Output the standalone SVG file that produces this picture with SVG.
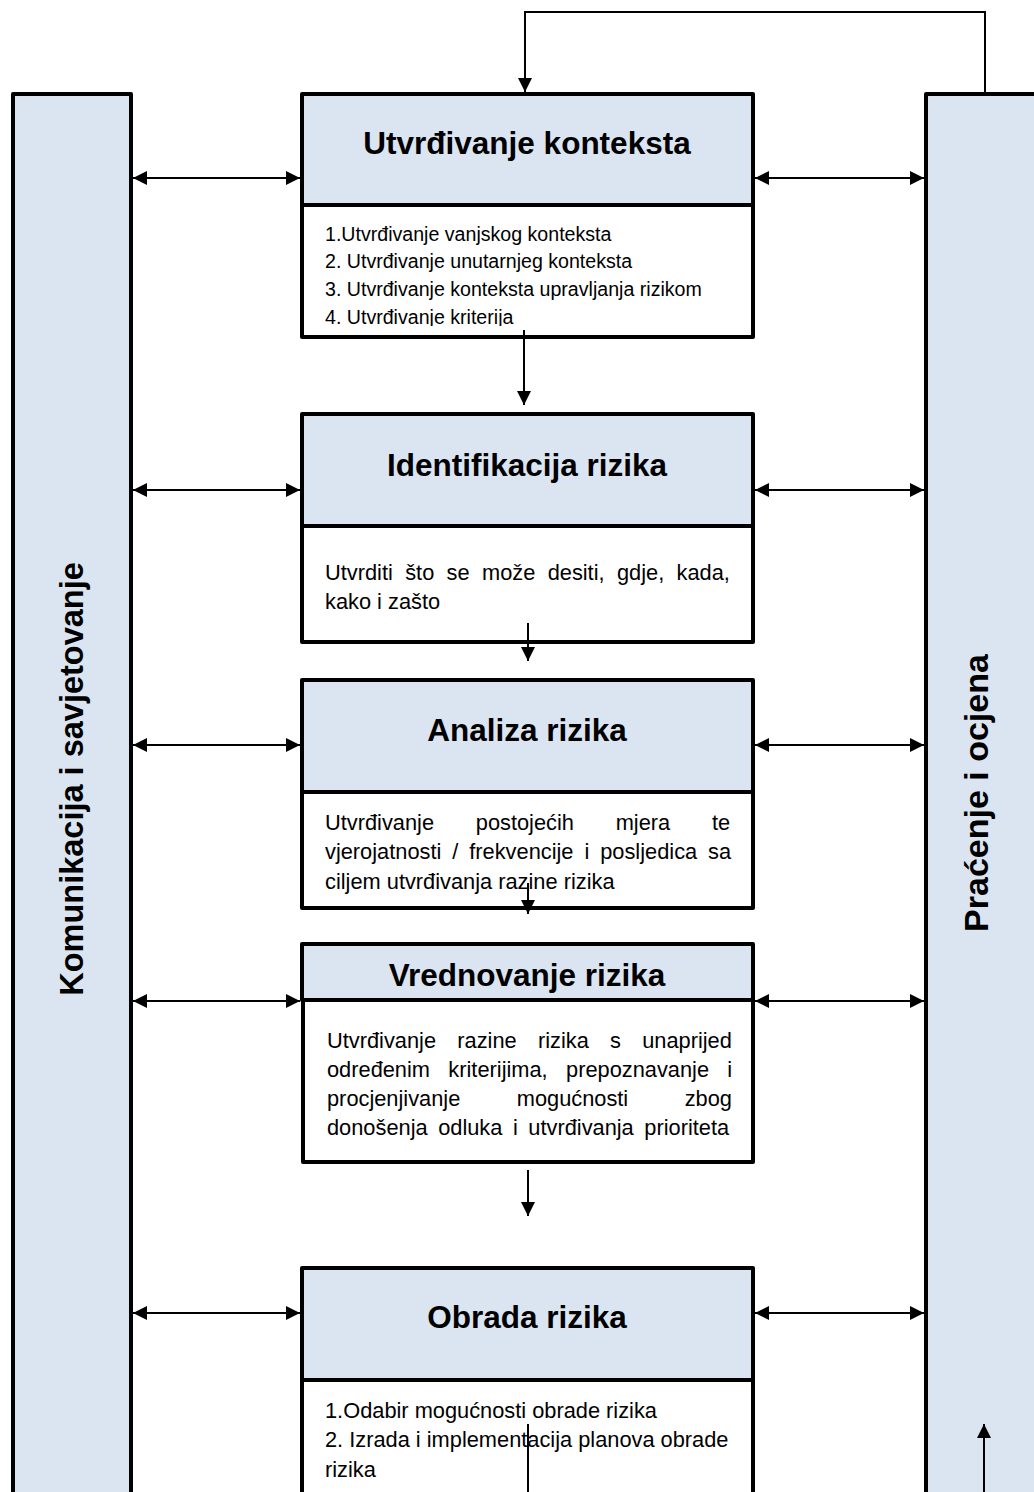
<svg xmlns="http://www.w3.org/2000/svg" width="1034" height="1492" viewBox="0 0 1034 1492">
<style>
.hdr{fill:#dbe5f1;stroke:#000;stroke-width:4;stroke-linejoin:round}
.bdy{fill:#fff;stroke:#000;stroke-width:4;stroke-linejoin:round}
.pnl{fill:#dbe5f1;stroke:#000;stroke-width:4;stroke-linejoin:round}
.ttl{font-family:"Liberation Sans",Arial,sans-serif;font-weight:bold;font-size:31.5px;text-anchor:middle}
.side{font-family:"Liberation Sans",Arial,sans-serif;font-weight:bold;font-size:32.5px;text-anchor:middle;dominant-baseline:central}
.txt{font-family:"Liberation Sans",Arial,sans-serif;font-size:21.8px}
.txs{font-family:"Liberation Sans",Arial,sans-serif;font-size:19.6px}
.conn{stroke:#000;stroke-width:2;fill:none}
</style>
<defs>
<marker id="ah" viewBox="0 0 14 14" refX="14" refY="7" markerWidth="14" markerHeight="14" markerUnits="userSpaceOnUse" orient="auto-start-reverse">
<path d="M0,0 L14,7 L0,14 Z" fill="#000"/>
</marker>
<clipPath id="c1"><rect x="302" y="205" width="451" height="121"/></clipPath>
</defs>
<rect width="1034" height="1492" fill="#fff"/>

<g id="komunikacija">
<rect class="pnl" x="13" y="94" width="118" height="1430"/>
<text class="side" transform="translate(72,779) rotate(-90)">Komunikacija i savjetovanje</text>
</g>
<g id="pracenje">
<rect class="pnl" x="926" y="94" width="140" height="1430"/>
<text class="side" style="font-size:34px" transform="translate(976,793) rotate(-90)">Praćenje i ocjena</text>
</g>

<g id="utvrdivanje">
<rect class="hdr" x="302" y="94" width="451" height="111"/>
<rect class="bdy" x="302" y="205" width="451" height="132"/>
<text class="ttl" x="527" y="154">Utvrđivanje konteksta</text>
<g clip-path="url(#c1)">
<text class="txs" x="325" y="241">1.Utvrđivanje vanjskog konteksta</text>
<text class="txs" x="325" y="268">2. Utvrđivanje unutarnjeg konteksta</text>
<text class="txs" x="325" y="296">3. Utvrđivanje konteksta upravljanja rizikom</text>
<text class="txs" x="325" y="324">4. Utvrđivanje kriterija</text>
</g>
</g>

<g id="identifikacija">
<rect class="hdr" x="302" y="414" width="451" height="112"/>
<rect class="bdy" x="302" y="526" width="451" height="116"/>
<text class="ttl" x="527" y="476">Identifikacija rizika</text>
<text class="txt" x="325" y="580" word-spacing="6.3">Utvrditi što se može desiti, gdje, kada,</text>
<text class="txt" x="325" y="609">kako i zašto</text>
</g>

<g id="analiza">
<rect class="hdr" x="302" y="680" width="451" height="112"/>
<rect class="bdy" x="302" y="792" width="451" height="116"/>
<text class="ttl" x="527" y="741">Analiza rizika</text>
<text class="txt" x="325" y="830" word-spacing="35.7">Utvrđivanje postojećih mjera te</text>
<text class="txt" x="325" y="859" word-spacing="4.9">vjerojatnosti / frekvencije i posljedica sa</text>
<text class="txt" x="325" y="889">ciljem utvrđivanja razine rizika</text>
</g>

<g id="vrednovanje">
<rect class="hdr" x="302" y="944" width="451" height="56"/>
<rect class="bdy" x="303" y="1000" width="450" height="162"/>
<text class="ttl" x="527" y="986">Vrednovanje rizika</text>
<text class="txt" x="327" y="1048" word-spacing="15.2">Utvrđivanje razine rizika s unaprijed</text>
<text class="txt" x="327" y="1077" word-spacing="12.3">određenim kriterijima, prepoznavanje i</text>
<text class="txt" x="327" y="1106" word-spacing="50.4">procjenjivanje mogućnosti zbog</text>
<text class="txt" x="327" y="1135" word-spacing="4.5">donošenja odluka i utvrđivanja prioriteta</text>
</g>

<g id="obrada">
<rect class="hdr" x="302" y="1268" width="451" height="112"/>
<rect class="bdy" x="302" y="1380" width="451" height="140"/>
<text class="ttl" x="527" y="1328">Obrada rizika</text>
<text class="txt" x="325" y="1418">1.Odabir mogućnosti obrade rizika</text>
<text class="txt" x="325" y="1447">2. Izrada i implementacija planova obrade</text>
<text class="txt" x="325" y="1477">rizika</text>
</g>

<g id="connectors">
<path class="conn" d="M985,92 V12 H525 V92" marker-end="url(#ah)"/>
<line class="conn" x1="133" y1="178" x2="300" y2="178" marker-start="url(#ah)" marker-end="url(#ah)"/>
<line class="conn" x1="755" y1="178" x2="924" y2="178" marker-start="url(#ah)" marker-end="url(#ah)"/>
<line class="conn" x1="133" y1="490" x2="300" y2="490" marker-start="url(#ah)" marker-end="url(#ah)"/>
<line class="conn" x1="755" y1="490" x2="924" y2="490" marker-start="url(#ah)" marker-end="url(#ah)"/>
<line class="conn" x1="133" y1="745" x2="300" y2="745" marker-start="url(#ah)" marker-end="url(#ah)"/>
<line class="conn" x1="755" y1="745" x2="924" y2="745" marker-start="url(#ah)" marker-end="url(#ah)"/>
<line class="conn" x1="133" y1="1001" x2="300" y2="1001" marker-start="url(#ah)" marker-end="url(#ah)"/>
<line class="conn" x1="755" y1="1001" x2="924" y2="1001" marker-start="url(#ah)" marker-end="url(#ah)"/>
<line class="conn" x1="133" y1="1313" x2="300" y2="1313" marker-start="url(#ah)" marker-end="url(#ah)"/>
<line class="conn" x1="755" y1="1313" x2="924" y2="1313" marker-start="url(#ah)" marker-end="url(#ah)"/>
<line class="conn" x1="524" y1="330" x2="524" y2="405" marker-end="url(#ah)"/>
<line class="conn" x1="528" y1="623" x2="528" y2="661" marker-end="url(#ah)"/>
<line class="conn" x1="528" y1="883" x2="528" y2="914" marker-end="url(#ah)"/>
<line class="conn" x1="528" y1="1170" x2="528" y2="1216" marker-end="url(#ah)"/>
<line class="conn" x1="528" y1="1424" x2="528" y2="1492"/>
<line class="conn" x1="984" y1="1492" x2="984" y2="1424" marker-end="url(#ah)"/>
</g>
</svg>
